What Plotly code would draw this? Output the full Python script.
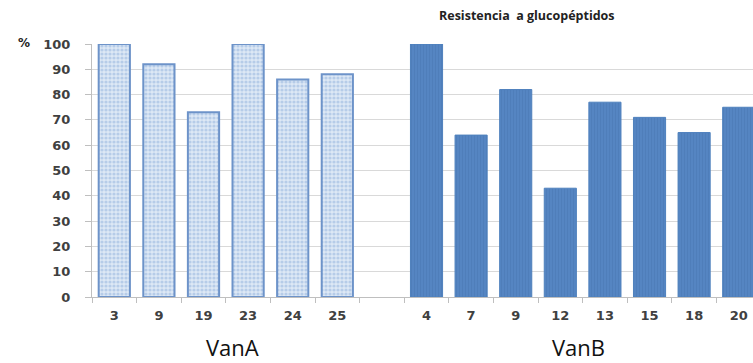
import plotly.graph_objects as go

# Resistance to glycopeptides (%) by isolate, grouped by genotype
vana_labels = ["3", "9", "19", "23", "24", "25"]
vana_values = [100, 92, 73, 100, 86, 88]
vanb_labels = ["4", "7", "9", "12", "13", "15", "18", "20"]
vanb_values = [100, 64, 82, 43, 77, 71, 65, 75]
y_ticks = [0, 10, 20, 30, 40, 50, 60, 70, 80, 90, 100]

# numeric slots: VanA, one empty slot, then VanB
vana_x = list(range(len(vana_labels)))
vanb_x = [len(vana_labels) + 1 + i for i in range(len(vanb_labels))]

fig = go.Figure()
fig.add_trace(go.Bar(
    x=vana_x, y=vana_values, width=0.7,
    marker=dict(
        color="#d3e1f2",
        line=dict(color="#6d93c9", width=2),
        pattern=dict(shape=".", fgcolor="#8fb0dc", bgcolor="#dde8f5",
                     size=4, solidity=0.5),
    ),
    showlegend=False, hoverinfo="y",
))
fig.add_trace(go.Bar(
    x=vanb_x, y=vanb_values, width=0.72,
    marker=dict(
        color="#4f81bd",
        line=dict(color="#4f81bd", width=1),
        pattern=dict(shape="|", fgcolor="#4675b0", bgcolor="#5585c2",
                     size=3, solidity=0.3),
    ),
    showlegend=False, hoverinfo="y",
))

tick_font = dict(family="DejaVu Sans", size=13, color="#404040", weight="bold")

fig.update_layout(
    width=753, height=363,
    margin=dict(l=92, r=0, t=44, b=66),
    paper_bgcolor="white", plot_bgcolor="white",
    xaxis=dict(
        range=[-0.5, 14.32],
        tickmode="array",
        tickvals=vana_x + vanb_x,
        ticktext=vana_labels + vanb_labels,
        ticks="", tickfont=tick_font, ticklabelstandoff=6,
        showgrid=False, zeroline=False,
        showline=True, linecolor="#bfbfbf", linewidth=1,
        minor=dict(tick0=0.5, dtick=1, ticks="outside", ticklen=5,
                   tickcolor="#bfbfbf", showgrid=False),
    ),
    yaxis=dict(
        range=[0, 100],
        tickmode="array", tickvals=y_ticks,
        ticks="outside", ticklen=6, tickcolor="#bfbfbf",
        tickfont=tick_font, ticklabelstandoff=12,
        showgrid=True, gridcolor="#d9d9d9", gridwidth=1,
        zeroline=False,
        showline=True, linecolor="#bfbfbf", linewidth=1,
    ),
    annotations=[
        dict(text="Resistencia  a glucopéptidos", xref="paper", yref="paper",
             x=(527 - 92) / 661, y=(297 - 15) / 253, showarrow=False,
             xanchor="center", yanchor="middle",
             font=dict(family="Open Sans", size=12.5, color="#222222", weight="bold")),
        dict(text="%", xref="paper", yref="paper",
             x=(24 - 92) / 661, y=(297 - 43) / 253, showarrow=False,
             xanchor="center", yanchor="middle",
             font=dict(family="DejaVu Sans", size=12, color="#222222", weight="bold")),
        dict(text="VanA", xref="x", yref="paper",
             x=2.65, y=(297 - 364) / 253, showarrow=False,
             xanchor="center", yanchor="bottom",
             font=dict(family="Open Sans", size=22, color="#111111")),
        dict(text="VanB", xref="x", yref="paper",
             x=10.4, y=(297 - 364) / 253, showarrow=False,
             xanchor="center", yanchor="bottom",
             font=dict(family="Open Sans", size=22, color="#111111")),
    ],
)

fig.write_html("out.html")
